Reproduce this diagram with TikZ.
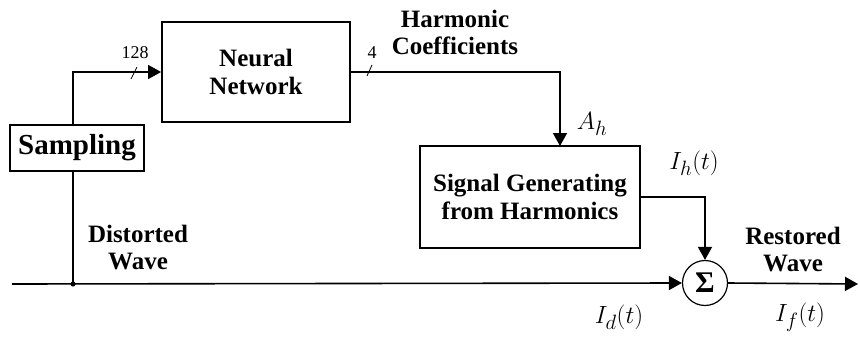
\documentclass[tikz,border=0pt]{standalone}
\usepackage{fontspec}
\setmainfont{Liberation Serif}
\usetikzlibrary{arrows.meta}

\tikzset{
  blk/.style = {draw, line width=1.8pt, inner sep=0pt, align=center,
                font=\fontsize{25}{28}\selectfont\bfseries},
  lbl/.style = {align=center, font=\fontsize{25}{27}\selectfont\bfseries},
  mlbl/.style = {font=\fontsize{31}{32}\selectfont},
  wire/.style = {line width=1.6pt},
  arr/.style = {wire, -{Triangle[length=13pt,width=14pt]}}
}

\begin{document}
\begin{tikzpicture}[x=1pt, y=-1pt]
  \useasboundingbox (0,0) rectangle (860,340);

  % blocks
  \node[blk, minimum width=134pt, minimum height=46pt,
        font=\fontsize{29}{30}\selectfont\bfseries] (samp) at (77,148) {Sampling};
  \node[blk, minimum width=188pt, minimum height=100pt] (nn) at (256,72) {Neural\\Network};
  \node[blk, line width=1.3pt, minimum width=220pt, minimum height=102pt] (sig) at (530,197)
        {Signal Generating\\from Harmonics};
  \node[draw, circle, line width=1.2pt, minimum size=45pt, inner sep=0pt,
        font=\fontsize{30}{30}\selectfont\bfseries] (sum) at (705,283) {Σ};

  \coordinate (in) at (12,284);
  \coordinate (split) at (73,284);
  \coordinate (out) at (858,284);
  \coordinate (ah) at (560,146);

  % wires
  \draw[arr] (in) -- (sum.west);
  \draw[wire] (split) -- (split |- samp.south);
  \draw[arr] (split |- samp.north) |- (nn.west);
  \draw[arr] (nn.east) -| (ah);
  \draw[arr] (sig.east) -| (sum.north);
  \draw[arr] (sum.east) -- (out);
  \fill (split) circle (2.6pt);

  % bus ticks
  \draw[line width=0.8pt] (131,79) -- (137,67);
  \draw[line width=0.8pt] (367,76) -- (372,65);

  % labels
  \node[font=\fontsize{18}{19}\selectfont] (n128) at (135,53) {128};
  \node[font=\fontsize{18}{19}\selectfont] (n4) at (372,53) {4};
  \node[lbl] (harm) at (455,32) {Harmonic\\Coefficients};
  \node[lbl] (dist) at (138,248) {Distorted\\Wave};
  \node[lbl] (rest) at (793,250) {Restored\\Wave};

  \node[mlbl] (Ah) at (592,124) {$A_h$};
  \node[mlbl] (Ih) at (694,163) {$I_h(t)$};
  \node[mlbl] (Id) at (619,317) {$I_d(t)$};
  \node[mlbl] (If) at (800,317) {$I_f(t)$};
\end{tikzpicture}
\end{document}
